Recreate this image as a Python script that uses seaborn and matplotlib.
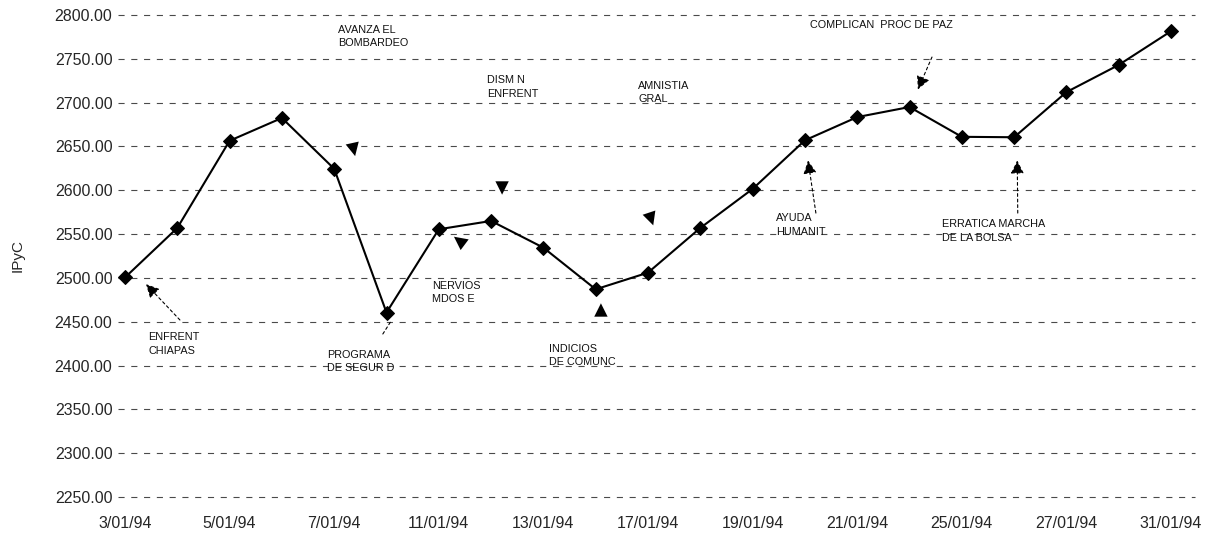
import numpy as np
import pandas as pd
import matplotlib
matplotlib.use("Agg")
import matplotlib.pyplot as plt
import seaborn as sns

# Trading days of January 1994 and the IPyC closing level
dates = ["3/01/94", "4/01/94", "5/01/94", "6/01/94", "7/01/94",
         "10/01/94", "11/01/94", "12/01/94", "13/01/94", "14/01/94",
         "17/01/94", "18/01/94", "19/01/94", "20/01/94", "21/01/94",
         "24/01/94", "25/01/94", "26/01/94", "27/01/94", "28/01/94",
         "31/01/94"]
ipyc = [2500.5, 2557.0, 2656.5, 2682.5, 2624.5,
        2460.5, 2555.5, 2565.0, 2534.5, 2487.0,
        2506.0, 2557.0, 2601.5, 2657.0, 2683.5,
        2695.0, 2661.0, 2660.5, 2712.0, 2743.0,
        2781.5]

# Every other trading day carries a label on the x axis
tick_labels = ["3/01/94", "5/01/94", "7/01/94", "11/01/94", "13/01/94",
               "17/01/94", "19/01/94", "21/01/94", "25/01/94",
               "27/01/94", "31/01/94"]
y_ticks = [2250, 2300, 2350, 2400, 2450, 2500, 2550, 2600, 2650,
           2700, 2750, 2800]

# Event notes drawn over the series
events = [
    "ENFRENT\nCHIAPAS",
    "PROGRAMA\nDE SEGUR D",
    "AVANZA EL\nBOMBARDEO",
    "NERVIOS\nMDOS E",
    "DISM N\nENFRENT",
    "INDICIOS\nDE COMUNC",
    "AMNISTIA\nGRAL",
    "AYUDA\nHUMANIT",
    "COMPLICAN  PROC DE PAZ",
    "ERRATICA MARCHA\nDE LA BOLSA",
]
# text anchor (day index, level) for each note
event_text_pos = [(0.44, 2438), (3.86, 2418), (4.07, 2789), (5.87, 2497),
                  (6.92, 2731), (8.11, 2425), (9.81, 2725), (12.45, 2574),
                  (13.10, 2794), (15.62, 2567)]
# arrow: (tip, tail, kind) -- tail in data coords for dashed shafts,
# or an offset in points for head-only pointers
event_arrows = [
    ((0.40, 2493), (1.05, 2452), "data"),
    ((5.09, 2451), (4.93, 2436), "line"),
    ((4.40, 2639), (-2, 9), "head"),
    ((6.29, 2547), (8, -6), "head"),
    ((7.21, 2595), (0, 9), "head"),
    ((9.10, 2471), (0, -9), "head"),
    ((10.10, 2560), (-3, 9), "head"),
    ((13.06, 2634), (13.21, 2574), "data"),
    ((15.16, 2715), (15.43, 2752), "data"),
    ((17.06, 2634), (17.07, 2574), "data"),
]

df = pd.DataFrame({"day": np.arange(len(dates)), "ipyc": ipyc})

sns.set_style("white")
plt.rcParams["font.family"] = ["Liberation Sans", "DejaVu Sans"]

W, H = 1207, 534
fig = plt.figure(figsize=(W / 100, H / 100), dpi=100)
left_px, right_px, top_px, bottom_px = 118, 1195, 15, 497
ax = fig.add_axes([left_px / W, 1 - bottom_px / H,
                   (right_px - left_px) / W, (bottom_px - top_px) / H])

sns.lineplot(data=df, x="day", y="ipyc", ax=ax, color="black",
             linewidth=1.5, marker="D", markersize=7.5,
             markeredgecolor="black", markerfacecolor="black", zorder=5)

step = 52.3
ax.set_xlim((left_px - 125) / step, (right_px - 125) / step)
ax.set_ylim(2250, 2800)

ax.set_yticks(y_ticks)
ax.set_yticklabels([f"{v:.2f}" for v in y_ticks], fontsize=11.5)
ax.set_xticks(np.arange(0, len(dates), 2))
ax.set_xticklabels(tick_labels, fontsize=11.5)
ax.tick_params(axis="y", length=0, pad=4)
ax.tick_params(axis="x", length=0, pad=14)

for v in y_ticks:
    ax.axhline(v, color="#4a4a4a", linewidth=0.8,
               linestyle=(0, (5.5, 6)), zorder=1, clip_on=False)

for s in ax.spines.values():
    s.set_visible(False)

ax.set_xlabel("")
ax.set_ylabel("IPyC", fontsize=11)
ax.yaxis.set_label_coords(-0.087, 0.5)

for text, (tx, ty), (tip, tail, kind) in zip(events, event_text_pos,
                                              event_arrows):
    ax.text(tx, ty, text, fontsize=7.8, ha="left", va="top",
            linespacing=1.45, color="#111111", zorder=6)
    if kind == "data":
        ax.annotate("", xy=tip, xytext=tail,
                    arrowprops=dict(arrowstyle="-|>", color="black",
                                    lw=0.8, linestyle=(0, (2.5, 2.5)),
                                    mutation_scale=20,
                                    shrinkA=0, shrinkB=0), zorder=6)
    elif kind == "line":
        ax.annotate("", xy=tip, xytext=tail,
                    arrowprops=dict(arrowstyle="-", color="black",
                                    lw=0.8, linestyle=(0, (2.5, 2.5)),
                                    shrinkA=0, shrinkB=0), zorder=6)
    else:
        ax.annotate("", xy=tip, xytext=tail, textcoords="offset points",
                    arrowprops=dict(arrowstyle="-|>", color="black",
                                    lw=0.01, mutation_scale=24,
                                    shrinkA=0, shrinkB=0), zorder=6)

fig.savefig("out.png", dpi=100)
